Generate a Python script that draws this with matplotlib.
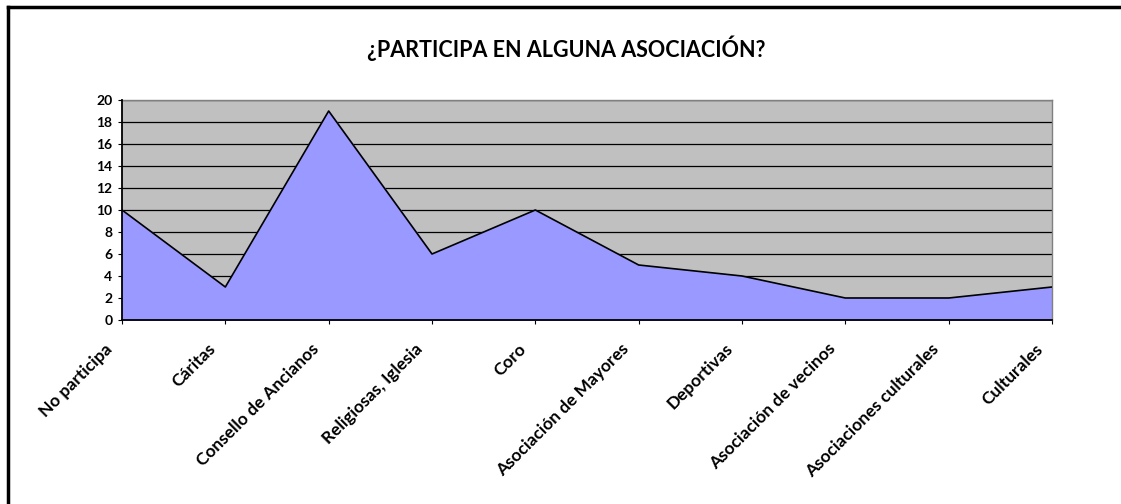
import numpy as np
import matplotlib.pyplot as plt
from matplotlib.lines import Line2D
from matplotlib.transforms import ScaledTranslation

# datos
categorias = ["No participa", "Cáritas", "Consello de Ancianos", "Religiosas, Iglesia",
              "Coro", "Asociación de Mayores", "Deportivas", "Asociación de vecinos",
              "Asociaciones culturales", "Culturales"]
valores = [10, 3, 19, 6, 10, 5, 4, 2, 2, 3]
yticks = list(range(0, 21, 2))

plt.rcParams['font.family'] = ['Lato', 'DejaVu Sans']

fig = plt.figure(figsize=(11.21, 5.04), dpi=100)
ax = fig.add_axes([122/1121, 1 - 320/504, (1052-122)/1121, (320-100)/504])

x = np.arange(len(categorias))
ax.set_facecolor("#C0C0C0")
ax.fill_between(x, valores, 0, color="#9999FF", zorder=2)
ax.plot(x, valores, color="black", lw=1.2, zorder=3)
for t in yticks[1:]:
    ax.axhline(t, color="black", lw=0.9, zorder=1)

ax.set_xlim(0, len(categorias) - 1)
ax.set_ylim(0, 20)
ax.set_yticks(yticks)
ax.set_yticklabels([str(t) for t in yticks], fontsize=10, fontweight="bold")
ax.set_xticks(x)
ax.set_xticklabels(categorias, rotation=45, ha="right", va="center",
                   rotation_mode="anchor", fontsize=12.5, fontweight="bold")
ax.tick_params(axis="both", direction="out", length=3, width=0.8, color="black")
ax.tick_params(axis="x", pad=16)
ax.tick_params(axis="y", pad=4)

# desplazar las etiquetas un poco a la izquierda
off = ScaledTranslation(-12/100, 0, fig.dpi_scale_trans)
for lab in ax.get_xticklabels():
    lab.set_transform(lab.get_transform() + off)

for s in ["top", "right"]:
    ax.spines[s].set_color("#808080")
    ax.spines[s].set_linewidth(1)
for s in ["left", "bottom"]:
    ax.spines[s].set_color("black")
    ax.spines[s].set_linewidth(1.3)
ax.spines["left"].set_zorder(4)
ax.spines["bottom"].set_zorder(4)

fig.text(566/1121, 1 - 48/504, "¿PARTICIPA EN ALGUNA ASOCIACIÓN?",
         ha="center", va="center", fontsize=15.5, fontweight="bold")

# marco del gráfico
fig.add_artist(Line2D([8/1121, 8/1121], [0, 1 - 7/504], color="black", lw=2.5,
                      transform=fig.transFigure))
fig.add_artist(Line2D([8/1121, 1], [1 - 7/504, 1 - 7/504], color="black", lw=2.5,
                      transform=fig.transFigure))

fig.savefig("out.png", dpi=100)
